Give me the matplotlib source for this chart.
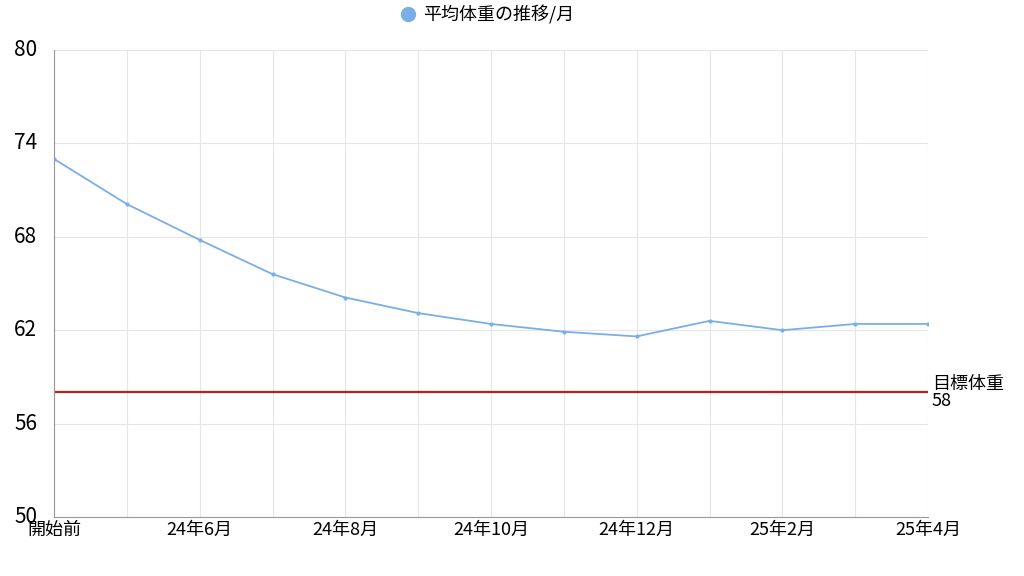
import matplotlib.pyplot as plt

plt.rcParams['font.family'] = ['Noto Sans CJK JP', 'DejaVu Sans']

months = ['開始前', '24年5月', '24年6月', '24年7月', '24年8月', '24年9月', '24年10月',
          '24年11月', '24年12月', '25年1月', '25年2月', '25年3月', '25年4月']
weights = [73.0, 70.1, 67.8, 65.6, 64.1, 63.1, 62.4, 61.9, 61.6, 62.6, 62.0, 62.4, 62.4]
target = 58
yticks = [50, 56, 62, 68, 74, 80]

fig = plt.figure(figsize=(10.24, 5.76), dpi=100)
ax = fig.add_axes([54/1024, 1-517/576, 874/1024, 467/576])

x = list(range(len(months)))
ax.plot(x, weights, color='#7aaee8', lw=1.3, marker='o', ms=2, label='平均体重の推移/月')
ax.axhline(target, color='#b5241b', lw=1.6)
ax.text(len(months)-1 + 0.05, target, '目標体重\n' + str(target), fontsize=13,
        va='center', ha='left', linespacing=0.9)

ax.set_xlim(0, len(months)-1)
ax.set_ylim(50, 80)
ax.set_yticks(yticks)
ax.set_xticks(x)
ax.set_xticklabels([m if i % 2 == 0 else '' for i, m in enumerate(months)], fontsize=13)
ax.tick_params(axis='y', labelsize=15, length=0, pad=12)
ax.tick_params(axis='x', length=0, pad=3)
for lbl in ax.get_yticklabels():
    lbl.set_verticalalignment('center')
ax.grid(color='#e6e6e6', lw=0.8)
for s in ['top', 'right']:
    ax.spines[s].set_visible(False)
ax.spines['left'].set_color('#999999')
ax.spines['bottom'].set_color('#999999')

ax.legend(loc='lower center', bbox_to_anchor=(0.5, 1.02), frameon=False, fontsize=13,
          handlelength=0, markerscale=5, handletextpad=0.8)

fig.savefig('out.png', dpi=100)
